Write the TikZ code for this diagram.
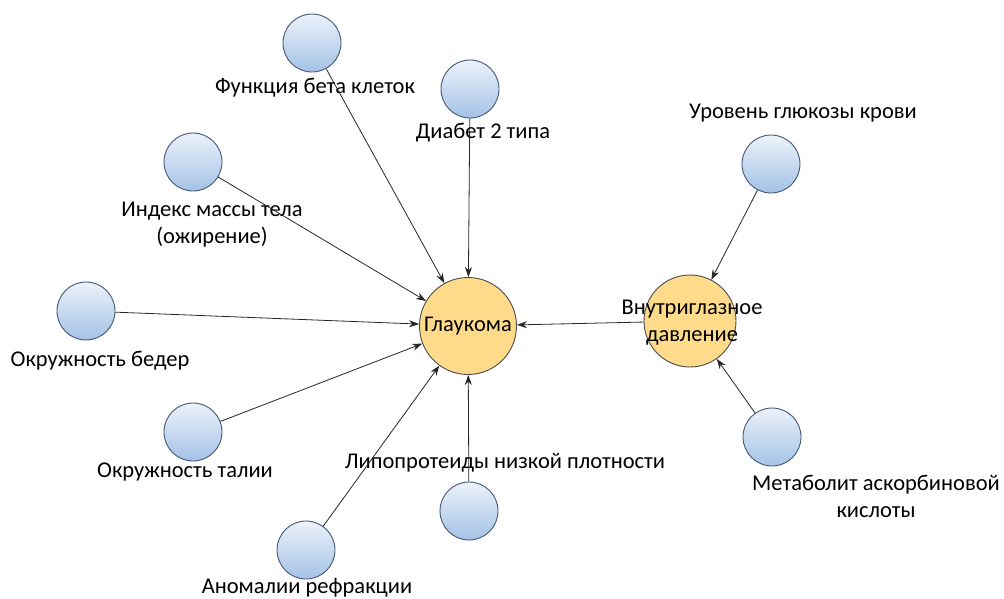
\documentclass[tikz,border=0pt]{standalone}
\usepackage{fontspec}
\setmainfont{Carlito}
\usetikzlibrary{arrows.meta, positioning}

\definecolor{ballTop}{RGB}{236,242,250}
\definecolor{ballBottom}{RGB}{164,194,230}
\definecolor{ballRim}{RGB}{70,88,120}
\definecolor{hubFill}{RGB}{253,219,138}

\tikzset{
  factor/.style={circle, draw=ballRim, line width=0.9pt, minimum size=58pt, inner sep=0pt,
    top color=ballTop, bottom color=ballBottom},
  hub/.style={circle, draw=black!70, line width=0.9pt, fill=hubFill, inner sep=0pt},
  lbl/.style={align=center, font=\fontsize{22.5}{27}\selectfont},
  link/.style={draw=black!85, line width=0.8pt, -{Stealth[length=10pt, width=7pt]}}
}

\begin{document}
\begin{tikzpicture}[x=1pt, y=-1pt]
  % fixed frame of the picture
  \path[use as bounding box] (0,0) rectangle (1004,598);

  % main nodes
  \node[hub, minimum size=97pt, lbl] (glau) at (468,326) {Глаукома};
  \node[hub, minimum size=92pt] (iop) at (690,321) {};
  \node[lbl] (iopText) at (692,323) {Внутриглазное\\давление};

  % factors
  \node[factor] (beta) at (312,43) {};
  \node[factor] (diab) at (470,89) {};
  \node[factor] (bmi) at (193,162) {};
  \node[factor] (hip) at (86,311) {};
  \node[factor] (waist) at (193,432) {};
  \node[factor] (refr) at (306,550) {};
  \node[factor] (ldl) at (469,511) {};
  \node[factor] (gluc) at (771,164) {};
  \node[factor] (ascorb) at (772,437) {};

  % labels
  \node[lbl] (betaText) at (315,88) {Функция бета клеток};
  \node[lbl] (diabText) at (483,133) {Диабет 2 типа};
  \node[lbl] (bmiText) at (212,225) {Индекс массы тела\\(ожирение)};
  \node[lbl] (hipText) at (100,361) {Окружность бедер};
  \node[lbl] (waistText) at (185,472) {Окружность талии};
  \node[lbl] (refrText) at (307,588) {Аномалии рефракции};
  \node[lbl] (ldlText) at (505,463) {Липопротеиды низкой плотности};
  \node[lbl] (glucText) at (803,113) {Уровень глюкозы крови};
  \node[lbl] (ascorbText) at (876,496) {Метаболит аскорбиновой\\кислоты};

  % connectors
  \draw[link] (beta) -- (glau);
  \draw[link] (diab) -- (glau);
  \draw[link] (bmi) -- (glau);
  \draw[link] (hip) -- (glau);
  \draw[link] (waist) -- (glau);
  \draw[link] (refr) -- (glau);
  \draw[link] (ldl) -- (glau);
  \draw[link] (iop) -- (glau);
  \draw[link] (gluc) -- (iop);
  \draw[link] (ascorb) -- (iop);
\end{tikzpicture}
\end{document}
